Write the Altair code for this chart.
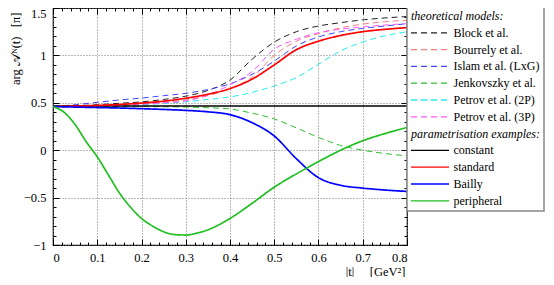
import altair as alt
import pandas as pd

SERIF = "Liberation Serif"

# ---------------- data ----------------
T = [0.0, 0.05, 0.1, 0.15, 0.2, 0.25, 0.3, 0.35, 0.4, 0.45, 0.5, 0.55, 0.6, 0.65, 0.7, 0.75, 0.8]

block      = [0.46, 0.47, 0.48, 0.495, 0.51, 0.535, 0.57, 0.63, 0.74, 0.96, 1.14, 1.25, 1.31, 1.345, 1.375, 1.395, 1.41]
bourrely   = [0.46, 0.465, 0.47, 0.48, 0.49, 0.505, 0.53, 0.575, 0.65, 0.77, 1.0, 1.15, 1.23, 1.29, 1.33, 1.355, 1.37]
islam      = [0.46, 0.48, 0.505, 0.53, 0.55, 0.575, 0.6, 0.64, 0.70, 0.80, 0.94, 1.10, 1.195, 1.25, 1.285, 1.31, 1.335]
jenkovszky = [0.46, 0.46, 0.46, 0.46, 0.46, 0.458, 0.455, 0.448, 0.435, 0.39, 0.33, 0.235, 0.135, 0.05, 0.0, -0.035, -0.06]
petrov2p   = [0.46, 0.462, 0.465, 0.47, 0.48, 0.493, 0.51, 0.535, 0.562, 0.61, 0.678, 0.766, 0.907, 1.047, 1.142, 1.206, 1.25]
petrov3p   = [0.46, 0.463, 0.467, 0.475, 0.485, 0.5, 0.52, 0.58, 0.69, 0.83, 1.065, 1.17, 1.24, 1.276, 1.30, 1.32, 1.335]

constant   = [0.466, 0.466, 0.466, 0.466, 0.466, 0.466, 0.466, 0.466, 0.466, 0.466, 0.466, 0.466, 0.466, 0.466, 0.466, 0.466, 0.466]
standard   = [0.46, 0.465, 0.472, 0.482, 0.497, 0.517, 0.548, 0.59, 0.65, 0.75, 0.9, 1.06, 1.15, 1.21, 1.25, 1.275, 1.293]
bailly     = [0.46, 0.455, 0.45, 0.445, 0.438, 0.43, 0.42, 0.405, 0.375, 0.29, 0.15, -0.09, -0.29, -0.37, -0.40, -0.42, -0.435]

T_PER      = [0.0, 0.025, 0.05, 0.075, 0.1, 0.125, 0.15, 0.175, 0.2, 0.225, 0.25, 0.275, 0.3, 0.325, 0.35,
              0.4, 0.45, 0.5, 0.55, 0.6, 0.65, 0.7, 0.75, 0.8]
peripheral = [0.46, 0.40, 0.27, 0.09, -0.07, -0.26, -0.45, -0.6, -0.72, -0.8, -0.86, -0.89, -0.895, -0.875, -0.84,
              -0.72, -0.56, -0.39, -0.25, -0.12, 0.0, 0.1, 0.175, 0.24]

HEAD1 = "theoretical models:"
HEAD2 = "parametrisation examples:"
dashed_names = ["Block et al.", "Bourrely et al.", "Islam et al. (LxG)", "Jenkovszky et al.",
                "Petrov et al. (2P)", "Petrov et al. (3P)"]
solid_names = ["constant", "standard", "Bailly", "peripheral"]
dashed_colors = ["#222222", "#ff7b7b", "#4545ff", "#2fbf2f", "#22eeee", "#ff55ff"]
solid_colors = ["#000000", "#ff0000", "#0000ff", "#1fbf1f"]

x_major = [0, 0.1, 0.2, 0.3, 0.4, 0.5, 0.6, 0.7, 0.8]
x_minor = [0, 0.02, 0.04, 0.06, 0.08, 0.1, 0.12, 0.14, 0.16, 0.18, 0.2, 0.22, 0.24, 0.26, 0.28, 0.3,
           0.32, 0.34, 0.36, 0.38, 0.4, 0.42, 0.44, 0.46, 0.48, 0.5, 0.52, 0.54, 0.56, 0.58, 0.6,
           0.62, 0.64, 0.66, 0.68, 0.7, 0.72, 0.74, 0.76, 0.78, 0.8]
y_major = [-1, -0.5, 0, 0.5, 1, 1.5]
y_minor = [-1, -0.9, -0.8, -0.7, -0.6, -0.5, -0.4, -0.3, -0.2, -0.1, 0, 0.1, 0.2, 0.3, 0.4, 0.5,
           0.6, 0.7, 0.8, 0.9, 1, 1.1, 1.2, 1.3, 1.4, 1.5]

# ---------------- table ----------------
rows = []
for name, ts, vs, kind in [
    ("Block et al.", T, block, "dashed"),
    ("Bourrely et al.", T, bourrely, "dashed"),
    ("Islam et al. (LxG)", T, islam, "dashed"),
    ("Jenkovszky et al.", T, jenkovszky, "dashed"),
    ("Petrov et al. (2P)", T, petrov2p, "dashed"),
    ("Petrov et al. (3P)", T, petrov3p, "dashed"),
    ("constant", T, constant, "solid"),
    ("standard", T, standard, "solid"),
    ("Bailly", T, bailly, "solid"),
    ("peripheral", T_PER, peripheral, "solid"),
]:
    for t, v in zip(ts, vs):
        rows.append({"series": name, "t": t, "v": v, "kind": kind})
df = pd.DataFrame(rows)

domain = [HEAD1] + dashed_names + [HEAD2] + solid_names
crange = ["transparent"] + dashed_colors + ["transparent"] + solid_colors
drange = [[1, 0]] + [[6, 4]] * len(dashed_names) + [[1, 0]] + [[1, 0]] * len(solid_names)

is_head = "(datum.label == '%s' || datum.label == '%s')" % (HEAD1, HEAD2)

legend = alt.Legend(
    title=None, orient="none", legendX=354, legendY=-2, padding=4,
    strokeColor="#888888", fillColor="white",
    symbolType="M-1,0L6.6,0", symbolSize=100, symbolStrokeWidth=1.3, symbolOffset=-1,
    labelFont=SERIF, labelFontSize=12, labelColor="black",
    labelOffset={"expr": is_head + " ? -11 : 31.5"},
    labelFontStyle={"expr": is_head + " ? 'italic' : 'normal'"},
    rowPadding=4.8, labelLimit=300,
)

xscale = alt.Scale(domain=[0, 0.8], nice=False, zero=False)
yscale = alt.Scale(domain=[-1, 1.5], nice=False, zero=False)
color = alt.Color("series:N", scale=alt.Scale(domain=domain, range=crange), legend=legend)
dash = alt.StrokeDash("series:N", scale=alt.Scale(domain=domain, range=drange), legend=legend)

lab = dict(labelFont=SERIF, labelFontSize=12.5, labelColor="black")
tick = dict(tickColor="black", tickWidth=1, domain=False)

ax_x_bottom = alt.Axis(orient="bottom", values=x_major, tickSize={"expr": "-6"}, labelPadding=12,
                       labelExpr="format(datum.value, '~g')", grid=True, gridDash=[1, 2],
                       gridColor="#777777", gridWidth=1,
                       title="|t|\u00a0\u00a0\u00a0\u00a0\u00a0[GeV²]", titleFont=SERIF, titleFontSize=12.5,
                       titleFontWeight="normal", titleColor="black", titleAlign="right",
                       titleBaseline="middle", titleX=352, titleY=26, **lab, **tick)
ax_y_left = alt.Axis(orient="left", values=y_major, tickSize={"expr": "-6"}, labelPadding=13,
                     labelExpr="replace(format(datum.value, '~g'), '-', '\u2212')",
                     labelOffset={"condition": {"test": "datum.value == 1.5", "value": 5}, "value": 0},
                     grid=True, gridDash=[1, 2], gridColor="#777777", gridWidth=1,
                     title="arg 𝒜ᴺ(t)\u00a0\u00a0\u00a0[π]", titleFont=SERIF, titleFontSize=12.5,
                     titleFontWeight="normal", titleColor="black", titleAngle=270,
                     titleAlign="right", titleBaseline="middle", titleX=-38, titleY=4,
                     **lab, **tick)

def tick_axis(orient, vals, size):
    return alt.Axis(orient=orient, values=vals, tickSize={"expr": str(-size)}, labels=False,
                    grid=False, title=None, **tick)

base = alt.Chart(df)

dashed_lines = base.transform_filter("datum.kind == 'dashed'").mark_line(
    interpolate="monotone", strokeWidth=1.0).encode(
    x=alt.X("t:Q", scale=xscale, axis=ax_x_bottom),
    y=alt.Y("v:Q", scale=yscale, axis=ax_y_left),
    color=color, strokeDash=dash,
)
solid_lines = base.transform_filter("datum.kind == 'solid'").mark_line(
    interpolate="monotone", strokeWidth=1.7).encode(
    x=alt.X("t:Q", scale=xscale, axis=None),
    y=alt.Y("v:Q", scale=yscale, axis=None),
    color=color, strokeDash=dash,
)

def ghost(xax, yax):
    return base.mark_point(opacity=0, size=0).encode(
        x=alt.X("t:Q", scale=xscale, axis=xax),
        y=alt.Y("v:Q", scale=yscale, axis=yax),
    )

l_minor = ghost(tick_axis("bottom", x_minor, 3), tick_axis("left", y_minor, 3))
l_top = ghost(tick_axis("top", x_major, 6), tick_axis("right", y_major, 6))
l_top_minor = ghost(tick_axis("top", x_minor, 3), tick_axis("right", y_minor, 3))

chart = alt.layer(dashed_lines, solid_lines, l_minor, l_top, l_top_minor).resolve_axis(
    x="independent", y="independent"
).properties(
    width=354, height=237,
    autosize=alt.AutoSizeParams(type="none"),
    padding={"left": 45, "top": 0, "right": 139, "bottom": 32},
).configure_view(stroke="black", strokeWidth=1.2).configure_legend(strokeWidth=1.5)

chart.save("out.html", embed_options={"renderer": "svg", "actions": False})
